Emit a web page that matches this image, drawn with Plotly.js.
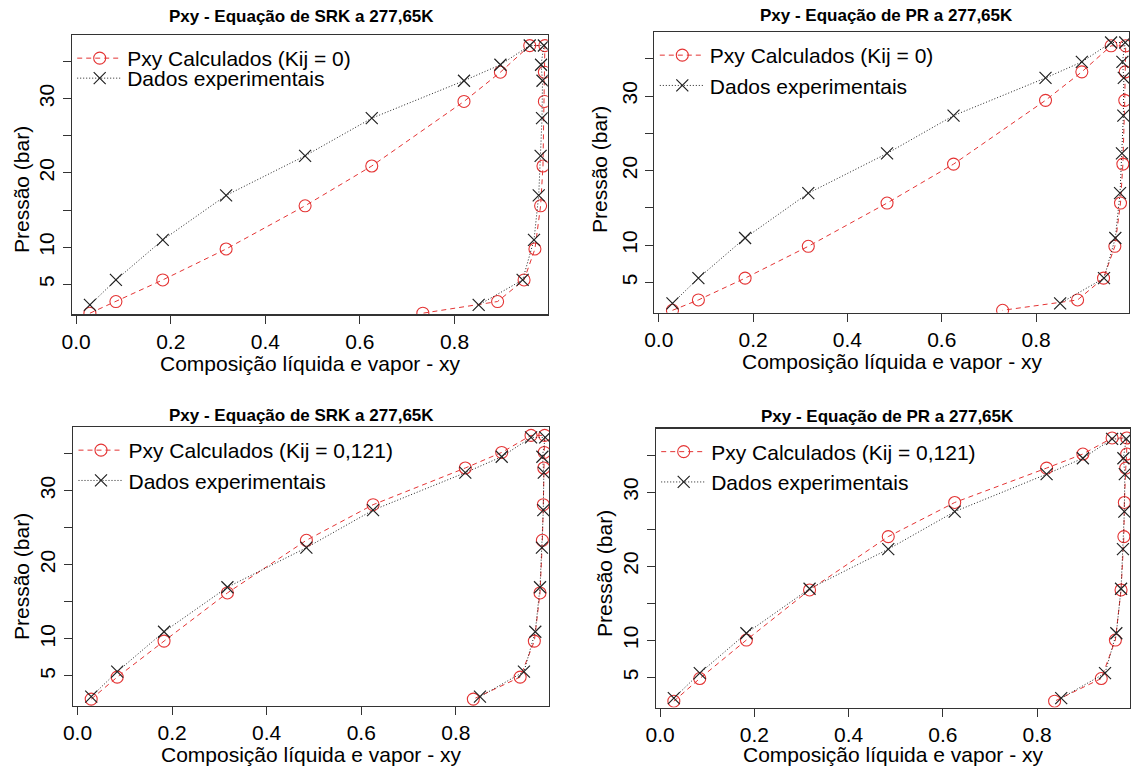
<!DOCTYPE html>
<html>
<head>
<meta charset="utf-8">
<script src="https://cdn.plot.ly/plotly-3.0.1.min.js"></script>
<style>html,body{margin:0;padding:0;background:#fff;}</style>
</head>
<body>
<div id="chart" style="width:1133px;height:766px;"></div>
<script>
// ---- data ----
const xLiquid   = [0.029, 0.084, 0.183, 0.317, 0.484, 0.625, 0.820, 0.897, 0.959];
const pExp      = [2.21, 5.58, 10.97, 16.97, 22.30, 27.37, 32.42, 34.57, 37.17];
const yVaporExp = [0.851, 0.944, 0.968, 0.978, 0.982, 0.985, 0.986, 0.983, 0.989];

const pSrk0     = [1.10, 2.67, 5.58, 9.75, 15.57, 20.93, 29.63, 33.57, 37.15];
const ySrk0     = [0.733, 0.891, 0.947, 0.970, 0.982, 0.987, 0.990, 0.990, 0.991];
const pPr0      = [1.27, 2.66, 5.58, 9.85, 15.65, 20.87, 29.42, 33.24, 36.73];
const yPr0      = [0.729, 0.888, 0.943, 0.967, 0.979, 0.984, 0.988, 0.989, 0.990];
const pSrk121   = [1.88, 4.85, 9.70, 16.20, 23.30, 28.10, 33.05, 35.15, 37.45];
const ySrk121   = [0.837, 0.936, 0.966, 0.978, 0.983, 0.985, 0.986, 0.987, 0.988];
const pPr121    = [1.80, 4.86, 10.05, 16.80, 24.00, 28.60, 33.24, 35.14, 37.30];
const yPr121    = [0.837, 0.936, 0.966, 0.978, 0.984, 0.985, 0.988, 0.990, 0.990];

const panelTitles = ['Pxy - Equação de SRK a 277,65K', 'Pxy - Equação de PR a 277,65K',
                     'Pxy - Equação de SRK a 277,65K', 'Pxy - Equação de PR a 277,65K'];
const calcNames   = ['Pxy Calculados (Kij = 0)', 'Pxy Calculados (Kij = 0)',
                     'Pxy Calculados (Kij = 0,121)', 'Pxy Calculados (Kij = 0,121)'];
const expName     = 'Dados experimentais';
const xAxisTitle  = 'Composição líquida e vapor - xy';
const yAxisTitle  = 'Pressão (bar)';
const xTickVals   = [0, 0.2, 0.4, 0.6, 0.8];
const xTickText   = ['0.0', '0.2', '0.4', '0.6', '0.8'];
const yTickVals   = [5, 10, 15, 20, 25, 30, 35];
const yTickText   = ['5', '10', '', '20', '', '30', ''];

// ---- layout geometry (pixels) ----
const W = 1133, H = 766;
const panels = [
  {l: 71.7, r: 547.7, t: 35,  b: 314.3, calcP: pSrk0,   calcY: ySrk0,   titleX: 301, titleY: 17,  xtY: 363, ytX: 21,  ytY: 190},
  {l: 654.3, r: 1129, t: 32,  b: 312.7, calcP: pPr0,    calcY: yPr0,    titleX: 886, titleY: 16,  xtY: 361, ytX: 599, ytY: 170},
  {l: 73,   r: 549,  t: 427, b: 706,   calcP: pSrk121, calcY: ySrk121, titleX: 301, titleY: 415, xtY: 754, ytX: 21,  ytY: 577},
  {l: 655.7, r: 1130, t: 428.5, b: 707.5, calcP: pPr121, calcY: yPr121, titleX: 887, titleY: 416, xtY: 754, ytX: 604, ytY: 574}
];

const FONT = 'Liberation Sans, Arial, Helvetica, sans-serif';
const RED = 'rgb(228,52,52)';
const BLACK = '#222';

// Build closed Pxy loop: liquid branch upward, then vapour branch downward
function loopX(xl, yv) { return xl.concat(yv.slice().reverse()); }
function loopP(p) { return p.concat(p.slice().reverse()); }

const traces = [];
const layout = {
  width: W, height: H,
  margin: {l: 0, r: 0, t: 0, b: 0},
  paper_bgcolor: '#fff', plot_bgcolor: '#fff',
  showlegend: true,
  font: {family: FONT, color: '#000'},
  annotations: []
};

panels.forEach((p, i) => {
  const n = i + 1;
  const xa = 'x' + (n === 1 ? '' : n), ya = 'y' + (n === 1 ? '' : n);
  const xk = 'xaxis' + (n === 1 ? '' : n), yk = 'yaxis' + (n === 1 ? '' : n);
  const lg = 'legend' + (n === 1 ? '' : n);

  traces.push({
    type: 'scatter', mode: 'lines+markers', xaxis: xa, yaxis: ya, legend: lg,
    name: calcNames[i],
    x: loopX(xLiquid, p.calcY), y: loopP(p.calcP),
    line: {color: RED, width: 1, dash: '5px,4px'},
    marker: {symbol: 'circle-open', size: 12, color: RED, line: {width: 1.1, color: RED}}
  });
  traces.push({
    type: 'scatter', mode: 'lines+markers', xaxis: xa, yaxis: ya, legend: lg,
    name: expName,
    x: loopX(xLiquid, yVaporExp), y: loopP(pExp),
    line: {color: BLACK, width: 1, dash: '1px,2px'},
    marker: {symbol: 'x-thin-open', size: 12, color: BLACK, line: {width: 1.2, color: BLACK}}
  });

  layout[xk] = {
    domain: [p.l / W, p.r / W], anchor: ya,
    range: [-0.0095, 0.997], autorange: false,
    showgrid: false, zeroline: false,
    showline: true, mirror: true, linecolor: '#333', linewidth: 1.2,
    ticks: 'outside', ticklen: 8, tickcolor: '#333', tickwidth: 1,
    tickvals: xTickVals, ticktext: xTickText, ticklabelstandoff: 0.01,
    tickfont: {size: 21, family: FONT, color: '#000'}
  };
  layout[yk] = {
    domain: [1 - p.b / H, 1 - p.t / H], anchor: xa,
    range: [0.95, 38.58], autorange: false,
    showgrid: false, zeroline: false,
    showline: true, mirror: true, linecolor: '#333', linewidth: 1.2,
    ticks: 'outside', ticklen: 8, tickcolor: '#333', tickwidth: 1,
    tickvals: yTickVals, ticktext: yTickText, tickangle: -90,
    tickfont: {size: 21, family: FONT, color: '#000'}
  };
  layout[lg] = {
    x: (p.l + 0.5) / W, y: 1 - (p.t + 3) / H, xanchor: 'left', yanchor: 'top',
    bgcolor: 'rgba(0,0,0,0)', borderwidth: 0, itemwidth: 45,
    font: {size: 21, family: FONT, color: '#000'},
    tracegroupgap: 0
  };
  layout.annotations.push({
    xref: 'paper', yref: 'paper', x: p.titleX / W, y: 1 - p.titleY / H,
    xanchor: 'center', yanchor: 'middle', showarrow: false,
    text: '<b>' + panelTitles[i] + '</b>', font: {size: 17, family: FONT, color: '#000'}
  });
  layout.annotations.push({
    xref: 'paper', yref: 'paper', x: (p.l + p.r) / 2 / W, y: 1 - p.xtY / H,
    xanchor: 'center', yanchor: 'middle', showarrow: false,
    text: xAxisTitle, font: {size: 21, family: FONT, color: '#000'}
  });
  layout.annotations.push({
    xref: 'paper', yref: 'paper', x: p.ytX / W, y: 1 - p.ytY / H,
    xanchor: 'center', yanchor: 'middle', showarrow: false, textangle: -90,
    text: yAxisTitle, font: {size: 21, family: FONT, color: '#000'}
  });
});

// R-style legends have tight rows (about 20 px apart): pull the second entry up
function tightenLegends(gd) {
  gd.querySelectorAll('g.legend').forEach(function (leg) {
    var items = leg.querySelectorAll('g.traces');
    if (items.length < 2) return;
    var parse = function (el) {
      var m = /translate\(\s*([-\d.eE]+)[\s,]+([-\d.eE]+)/.exec(el.getAttribute('transform') || '');
      return m ? [parseFloat(m[1]), parseFloat(m[2])] : [0, 0];
    };
    var p0 = parse(items[0]);
    for (var k = 1; k < items.length; k++) {
      var pk = parse(items[k]);
      items[k].setAttribute('transform', 'translate(' + pk[0] + ',' + (p0[1] + 20 * k) + ')');
    }
  });
}

Plotly.newPlot('chart', traces, layout, {staticPlot: true, displayModeBar: false})
  .then(tightenLegends);
</script>
</body>
</html>
